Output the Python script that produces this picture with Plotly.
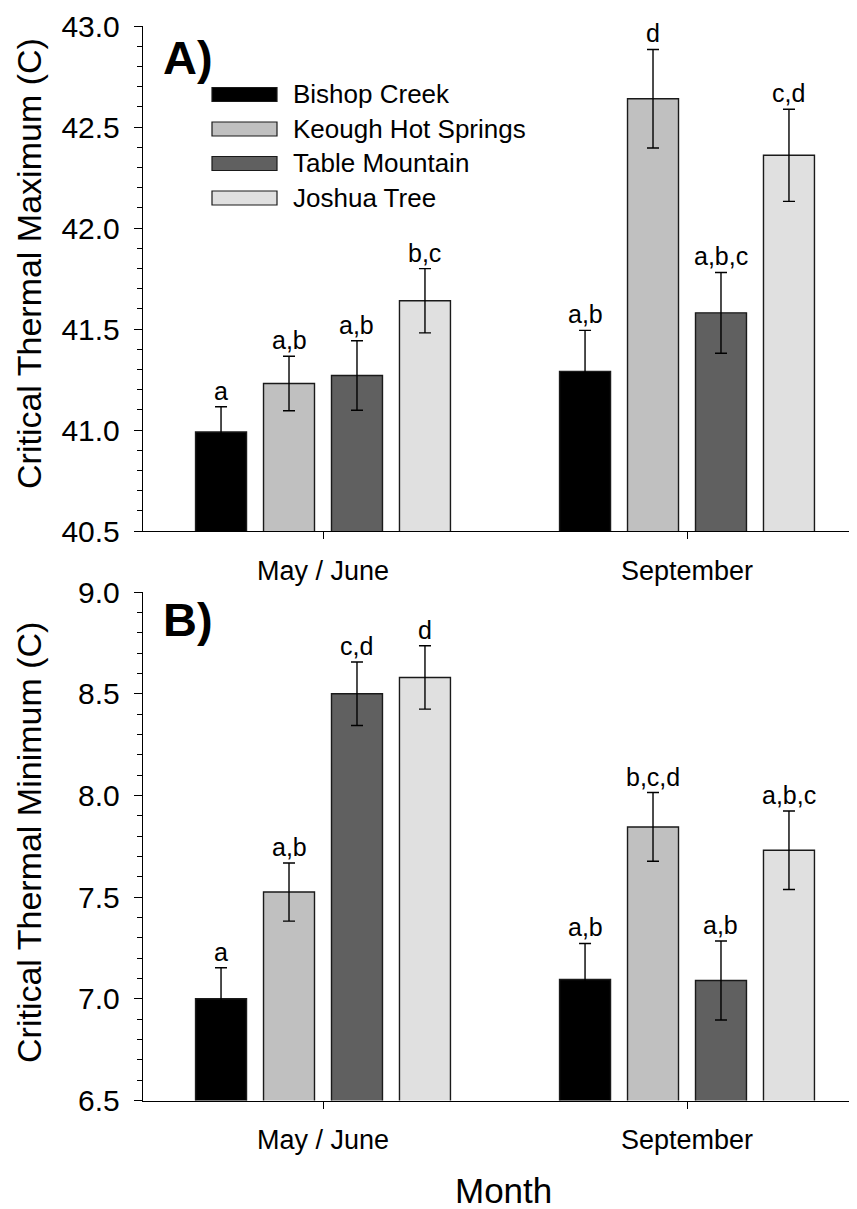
import plotly.graph_objects as go

# ---------------- data ----------------
months = ["May / June", "September"]
sites = ["Bishop Creek", "Keough Hot Springs", "Table Mountain", "Joshua Tree"]
colors = ["#000000", "#c0c0c0", "#606060", "#e0e0e0"]

# Critical thermal maximum (panel A), per site: [May/June, September]
ctmax_bishop = [40.99, 41.29]
ctmax_keough = [41.23, 42.64]
ctmax_table = [41.27, 41.58]
ctmax_joshua = [41.64, 42.36]
ctmax_err_bishop = [0.125, 0.203]
ctmax_err_keough = [0.135, 0.244]
ctmax_err_table = [0.172, 0.200]
ctmax_err_joshua = [0.159, 0.228]
ctmax_letters_bishop = ["a", "a,b"]
ctmax_letters_keough = ["a,b", "d"]
ctmax_letters_table = ["a,b", "a,b,c"]
ctmax_letters_joshua = ["b,c", "c,d"]

# Critical thermal minimum (panel B), per site: [May/June, September]
ctmin_bishop = [7.00, 7.095]
ctmin_keough = [7.525, 7.845]
ctmin_table = [8.50, 7.09]
ctmin_joshua = [8.58, 7.73]
ctmin_err_bishop = [0.153, 0.177]
ctmin_err_keough = [0.143, 0.169]
ctmin_err_table = [0.156, 0.194]
ctmin_err_joshua = [0.156, 0.193]
ctmin_letters_bishop = ["a", "a,b"]
ctmin_letters_keough = ["a,b", "b,c,d"]
ctmin_letters_table = ["c,d", "a,b"]
ctmin_letters_joshua = ["d", "a,b,c"]

ctmax_vals = [ctmax_bishop, ctmax_keough, ctmax_table, ctmax_joshua]
ctmax_errs = [ctmax_err_bishop, ctmax_err_keough, ctmax_err_table, ctmax_err_joshua]
ctmax_lets = [ctmax_letters_bishop, ctmax_letters_keough, ctmax_letters_table, ctmax_letters_joshua]
ctmin_vals = [ctmin_bishop, ctmin_keough, ctmin_table, ctmin_joshua]
ctmin_errs = [ctmin_err_bishop, ctmin_err_keough, ctmin_err_table, ctmin_err_joshua]
ctmin_lets = [ctmin_letters_bishop, ctmin_letters_keough, ctmin_letters_table, ctmin_letters_joshua]

# ---------------- layout constants ----------------
W, H = 857, 1209
OFF = 8  # page body margin in the browser
FONT = "Arial, Liberation Sans, Helvetica, sans-serif"
BARGAP = 0.253
BARGROUPGAP = 0.25
XRANGE = [-0.4945, 1.489]


def px(xp):
    return (xp - OFF) / W


def py(yp):
    return 1 - (yp - OFF) / H


x_idx = list(range(len(months)))
fig = go.Figure()

panels = [
    ("x", "y", ctmax_vals, ctmax_errs, ctmax_lets),
    ("x2", "y2", ctmin_vals, ctmin_errs, ctmin_lets),
]

slot = (1 - BARGAP) / len(sites)
annotations = []
for p, (xa, ya, vals, errs, lets) in enumerate(panels):
    for k, site in enumerate(sites):
        fig.add_trace(go.Bar(
            x=x_idx, y=vals[k], name=site, xaxis=xa, yaxis=ya,
            marker=dict(color=colors[k], line=dict(color="#1a1a1a", width=1.4)),
            error_y=dict(type="data", array=errs[k], visible=True,
                         color="black", thickness=1.4, width=6),
            showlegend=False,
        ))
        off = (k - (len(sites) - 1) / 2) * slot
        for i in x_idx:
            annotations.append(dict(
                x=i + off, y=vals[k][i] + errs[k][i], xref=xa, yref=ya,
                text=lets[k][i], showarrow=False, yanchor="bottom", yshift=0,
                font=dict(family=FONT, size=25, color="black"),
            ))

# domains in paper fractions
xdom = [px(143), 1.0]
top_dom = [py(531), py(26)]
bot_dom = [py(1100.5), py(592)]

yax_common = dict(
    showline=True, linecolor="black", linewidth=1.4,
    ticks="outside", ticklen=8, tickwidth=1.2, tickcolor="black",
    dtick=0.5, tickformat=".1f", showgrid=False, zeroline=False,
    tickfont=dict(family=FONT, size=30, color="black"),
    minor=dict(dtick=0.1, ticks="outside", ticklen=5, tickwidth=1, tickcolor="black", showgrid=False),
    ticklabelstandoff=8, automargin=False, ticklabeloverflow="allow",
)
xax_common = dict(
    range=XRANGE, showline=True, linecolor="black", linewidth=1.4,
    ticks="outside", ticklen=7, tickwidth=1.2, tickcolor="black",
    tickvals=x_idx, ticktext=months, showgrid=False, zeroline=False,
    tickfont=dict(family=FONT, size=27, color="black"),
    ticklabelstandoff=8, domain=xdom, automargin=False, ticklabeloverflow="allow",
)

fig.update_layout(
    template="none",
    width=W, height=H, autosize=False,
    margin=dict(l=0, r=0, t=0, b=0, pad=0),
    paper_bgcolor="white", plot_bgcolor="white",
    barmode="group", bargap=BARGAP, bargroupgap=BARGROUPGAP,
    xaxis=dict(anchor="y", **xax_common),
    xaxis2=dict(anchor="y2", **xax_common),
    yaxis=dict(anchor="x", domain=top_dom, range=[40.5, 43.0], **yax_common),
    yaxis2=dict(anchor="x2", domain=bot_dom, range=[6.5, 9.0], **yax_common),
    showlegend=False,
)

# axis titles and panel labels
annotations += [
    dict(text="Critical Thermal Maximum (C)", x=px(29), y=py(264), xref="paper", yref="paper",
         textangle=-90, showarrow=False, xanchor="center", yanchor="middle",
         font=dict(family=FONT, size=34, color="black")),
    dict(text="Critical Thermal Minimum (C)", x=px(29), y=py(843), xref="paper", yref="paper",
         textangle=-90, showarrow=False, xanchor="center", yanchor="middle",
         font=dict(family=FONT, size=34, color="black")),
    dict(text="Month", x=px(504), y=py(1190), xref="paper", yref="paper",
         showarrow=False, xanchor="center", yanchor="middle",
         font=dict(family=FONT, size=35, color="black")),
    dict(text="<b>A)</b>", x=px(161), y=py(57), xref="paper", yref="paper",
         showarrow=False, xanchor="left", yanchor="middle",
         font=dict(family=FONT, size=47, color="black")),
    dict(text="<b>B)</b>", x=px(161), y=py(619), xref="paper", yref="paper",
         showarrow=False, xanchor="left", yanchor="middle",
         font=dict(family=FONT, size=47, color="black")),
]

# legend drawn as swatches + labels (inside panel A)
shapes = []
row_y = [94.5, 129, 163.5, 198]
for k, site in enumerate(sites):
    yc = py(row_y[k])
    hh = 7 / H
    shapes.append(dict(type="rect", xref="paper", yref="paper",
                       x0=px(212), x1=px(277), y0=yc - hh, y1=yc + hh,
                       fillcolor=colors[k], line=dict(color="#1a1a1a", width=1.2)))
    annotations.append(dict(text=site, x=px(291), y=yc, xref="paper", yref="paper",
                            showarrow=False, xanchor="left", yanchor="middle",
                            font=dict(family=FONT, size=26, color="black")))

fig.update_layout(annotations=annotations, shapes=shapes)
fig.write_html("out.html")
